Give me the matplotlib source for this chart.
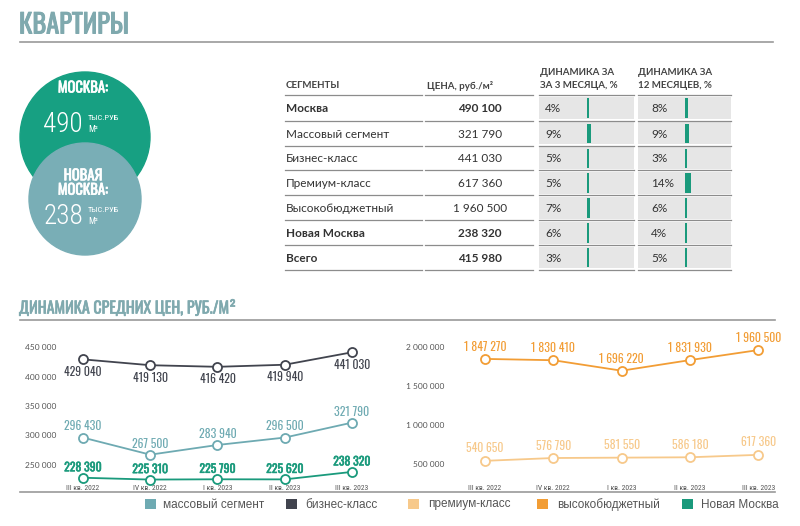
import numpy as np
import matplotlib
matplotlib.use("Agg")
import matplotlib.pyplot as plt
import matplotlib.patheffects as pe
from matplotlib.patches import Circle, Rectangle
from matplotlib.ticker import FuncFormatter

# Table data
segments = ["Москва", "Массовый сегмент", "Бизнес-класс", "Премиум-класс",
            "Высокобюджетный", "Новая Москва", "Всего"]
bold_rows = ["Москва", "Новая Москва", "Всего"]
prices = [490100, 321790, 441030, 617360, 1960500, 238320, 415980]
dyn_3m = [4, 9, 5, 5, 7, 6, 3]
dyn_12m = [8, 9, 3, 14, 6, 4, 5]

# Circles
moscow_price = 490
new_moscow_price = 238

# Chart data
quarters = ["III кв. 2022", "IV кв. 2022", "I кв. 2023", "II кв. 2023", "III кв. 2023"]
mass = [296430, 267500, 283940, 296500, 321790]
business = [429040, 419130, 416420, 419940, 441030]
new_moscow = [228390, 225310, 225790, 225620, 238320]
premium = [540650, 576790, 581550, 586180, 617360]
high_budget = [1847270, 1830410, 1696220, 1831930, 1960500]

legend_names = ["массовый сегмент", "бизнес-класс", "премиум-класс",
                "высокобюджетный", "Новая Москва"]

C_MASS = "#6eaab2"
C_BUS = "#41444e"
C_PREM = "#f7c98b"
C_HIGH = "#f29d35"
C_NEW = "#1a9a7c"
C_TITLE = "#7fa9ae"
C_LINE = "#9a9a9a"
C_TEXT = "#333333"

OSW = ["Oswald", "DejaVu Sans"]
RC = ["Roboto Condensed", "DejaVu Sans"]
TABLE_FONT = ["Lato", "DejaVu Sans"]


def fmt_num(v):
    return f"{int(v):,}".replace(",", " ")


def heavy(color, lw=0.5):
    # thicken the regular Oswald strokes a bit
    return [pe.withStroke(linewidth=lw, foreground=color)]


fig = plt.figure(figsize=(8, 5.26), dpi=100)

# Overlay axes in pixel coordinates for headers, circles and table
ov = fig.add_axes([0, 0, 1, 1])
ov.set_xlim(0, 800)
ov.set_ylim(526, 0)
ov.axis("off")

# Page title
ov.text(19, 25, "КВАРТИРЫ", family=OSW, fontsize=19, color=C_TITLE,
        va="center", ha="left", path_effects=heavy(C_TITLE, 0.7))
ov.plot([20, 773], [42, 42], color=C_LINE, lw=1.2)

# Circles
ov.add_patch(Circle((85, 137), 65, color="#17a082", zorder=2))
ov.add_patch(Circle((85, 199), 56, color="#79aeb6", zorder=3))
ov.text(83, 88, "МОСКВА:", family=OSW, fontsize=10.5, color="white",
        ha="center", va="center", zorder=4, path_effects=heavy("white", 0.45))
ov.text(83, 124, str(moscow_price), family=RC, fontweight="light", fontsize=19.5,
        color="white", ha="right", va="center", zorder=4)
ov.text(88, 118, "ТЫС.РУБ", family=RC, fontsize=6, color="white",
        ha="left", va="center", zorder=4)
ov.text(88, 130, "М²", family=RC, fontsize=6.5, color="white",
        ha="left", va="center", zorder=4)
ov.text(83, 183, "НОВАЯ\nМОСКВА:", family=OSW, fontsize=10.5, color="white",
        ha="center", va="center", linespacing=0.95, zorder=4,
        path_effects=heavy("white", 0.45))
ov.text(83, 216, str(new_moscow_price), family=RC, fontweight="light", fontsize=19.5,
        color="white", ha="right", va="center", zorder=4)
ov.text(88, 210, "ТЫС.РУБ", family=RC, fontsize=6, color="white",
        ha="left", va="center", zorder=4)
ov.text(88, 222, "М²", family=RC, fontsize=6.5, color="white",
        ha="left", va="center", zorder=4)

# Table
col_spans = [(285, 422), (425, 533), (539, 634), (638, 731)]
row_lines = [95, 120.7, 145.5, 170.4, 195.3, 220.1, 245, 269.8]

ov.text(286, 86, "СЕГМЕНТЫ", family=TABLE_FONT, fontweight="bold", fontsize=7,
        color="#444444", va="center")
ov.text(427, 86, "ЦЕНА, руб./м²", family=TABLE_FONT, fontweight="bold", fontsize=7,
        color="#444444", va="center")
ov.text(540, 79, "ДИНАМИКА ЗА\nЗА 3 МЕСЯЦА, %", family=TABLE_FONT, fontweight="bold",
        fontsize=7, color="#444444", va="center", linespacing=1.45)
ov.text(638, 79, "ДИНАМИКА ЗА\n12 МЕСЯЦЕВ, %", family=TABLE_FONT, fontweight="bold",
        fontsize=7, color="#444444", va="center", linespacing=1.45)

for i in range(len(segments)):
    top, bot = row_lines[i], row_lines[i + 1]
    yc = (top + bot) / 2 + 1
    for x0, x1 in col_spans[2:]:
        ov.add_patch(Rectangle((x0, top + 1.5), x1 - x0, bot - top - 3,
                               color="#e6e6e6", lw=0, zorder=1))
    w = "bold" if segments[i] in bold_rows else "normal"
    ov.text(286, yc, segments[i], family=TABLE_FONT, fontweight=w, fontsize=8.5,
            color=C_TEXT, va="center")
    ov.text(480, yc, fmt_num(prices[i]), family=TABLE_FONT, fontweight=w,
            fontsize=8.5, color=C_TEXT, va="center", ha="center")
    ov.text(545, yc, f"{dyn_3m[i]}%", family=TABLE_FONT, fontsize=8.5,
            color=C_TEXT, va="center")
    ov.text(651, yc, f"{dyn_12m[i]}%", family=TABLE_FONT, fontsize=8.5,
            color=C_TEXT, va="center")
    ov.add_patch(Rectangle((587, top + 3), max(2, dyn_3m[i] * 0.4), bot - top - 5.5,
                           color=C_NEW, lw=0, zorder=2))
    ov.add_patch(Rectangle((685, top + 3), max(2, dyn_12m[i] * 0.4), bot - top - 5.5,
                           color=C_NEW, lw=0, zorder=2))

for y in row_lines:
    for x0, x1 in col_spans:
        ov.plot([x0, x1], [y, y], color="#8c8c8c", lw=0.9, zorder=3)

# Section title
ov.text(19, 308, "ДИНАМИКА СРЕДНИХ ЦЕН, РУБ./М²", family=OSW, fontsize=11.5,
        color=C_TITLE, va="center", path_effects=heavy(C_TITLE, 0.45))
ov.plot([20, 775], [320, 320], color=C_LINE, lw=1.2)
ov.plot([20, 775], [492, 492], color=C_LINE, lw=1.2)

# Legend
leg_colors = [C_MASS, C_BUS, C_PREM, C_HIGH, C_NEW]
leg_sq_x = [145, 286, 408, 537, 682]
leg_tx_x = [163, 305, 428, 557, 701]
for name, c, sx, tx in zip(legend_names, leg_colors, leg_sq_x, leg_tx_x):
    ov.add_patch(Rectangle((sx, 499), 11, 10, color=c, lw=0))
    ov.text(tx, 504.5, name, family=["Liberation Sans", "DejaVu Sans"], fontsize=8.5,
            color="#555555", va="center")


def px_axes(left, right, top, bottom):
    return fig.add_axes([left / 800, (526 - bottom) / 526,
                         (right - left) / 800, (bottom - top) / 526])


def style_chart(ax, ticks):
    ax.set_facecolor("none")
    for s in ax.spines.values():
        s.set_visible(False)
    ax.set_yticks(ticks)
    ax.yaxis.set_major_formatter(FuncFormatter(lambda v, p: fmt_num(v)))
    ax.tick_params(axis="y", length=0, pad=4, labelsize=6, labelcolor="#555555")
    for lab in ax.get_yticklabels():
        lab.set_family(TABLE_FONT)
    ax.set_xticks([])
    for i, q in enumerate(quarters):
        ax.text(i, 0.025, q, transform=ax.get_xaxis_transform(), family=RC,
                fontsize=5.5, color="#555555", ha="center", va="center")


def draw_series(ax, values, color, offset, stroke=None):
    x = np.arange(len(values))
    ax.plot(x, values, color=color, lw=1.3, marker="o", ms=6.5,
            mfc="white", mec=color, mew=1.3, zorder=3)
    effects = heavy(color, stroke) if stroke else None
    for xi, v in zip(x, values):
        ax.annotate(fmt_num(v), (xi, v), xytext=(0, offset), textcoords="offset points",
                    ha="center", va="center", family=OSW, fontsize=8.5, color=color,
                    path_effects=effects)


# Left chart
axl = px_axes(62, 395, 330, 492)
axl.set_xlim(-0.312, 4.64)
axl.set_ylim(204237, 478814)
style_chart(axl, [250000, 300000, 350000, 400000, 450000])
draw_series(axl, business, C_BUS, -9)
draw_series(axl, mass, C_MASS, 8)
draw_series(axl, new_moscow, C_NEW, 7.5, stroke=0.35)

# Right chart
axr = px_axes(450, 780, 330, 492)
axr.set_xlim(-0.513, 4.32)
axr.set_ylim(141026, 2217949)
style_chart(axr, [500000, 1000000, 1500000, 2000000])
draw_series(axr, high_budget, C_HIGH, 8.5)
draw_series(axr, premium, C_PREM, 9)

fig.savefig("out.png", dpi=100)
